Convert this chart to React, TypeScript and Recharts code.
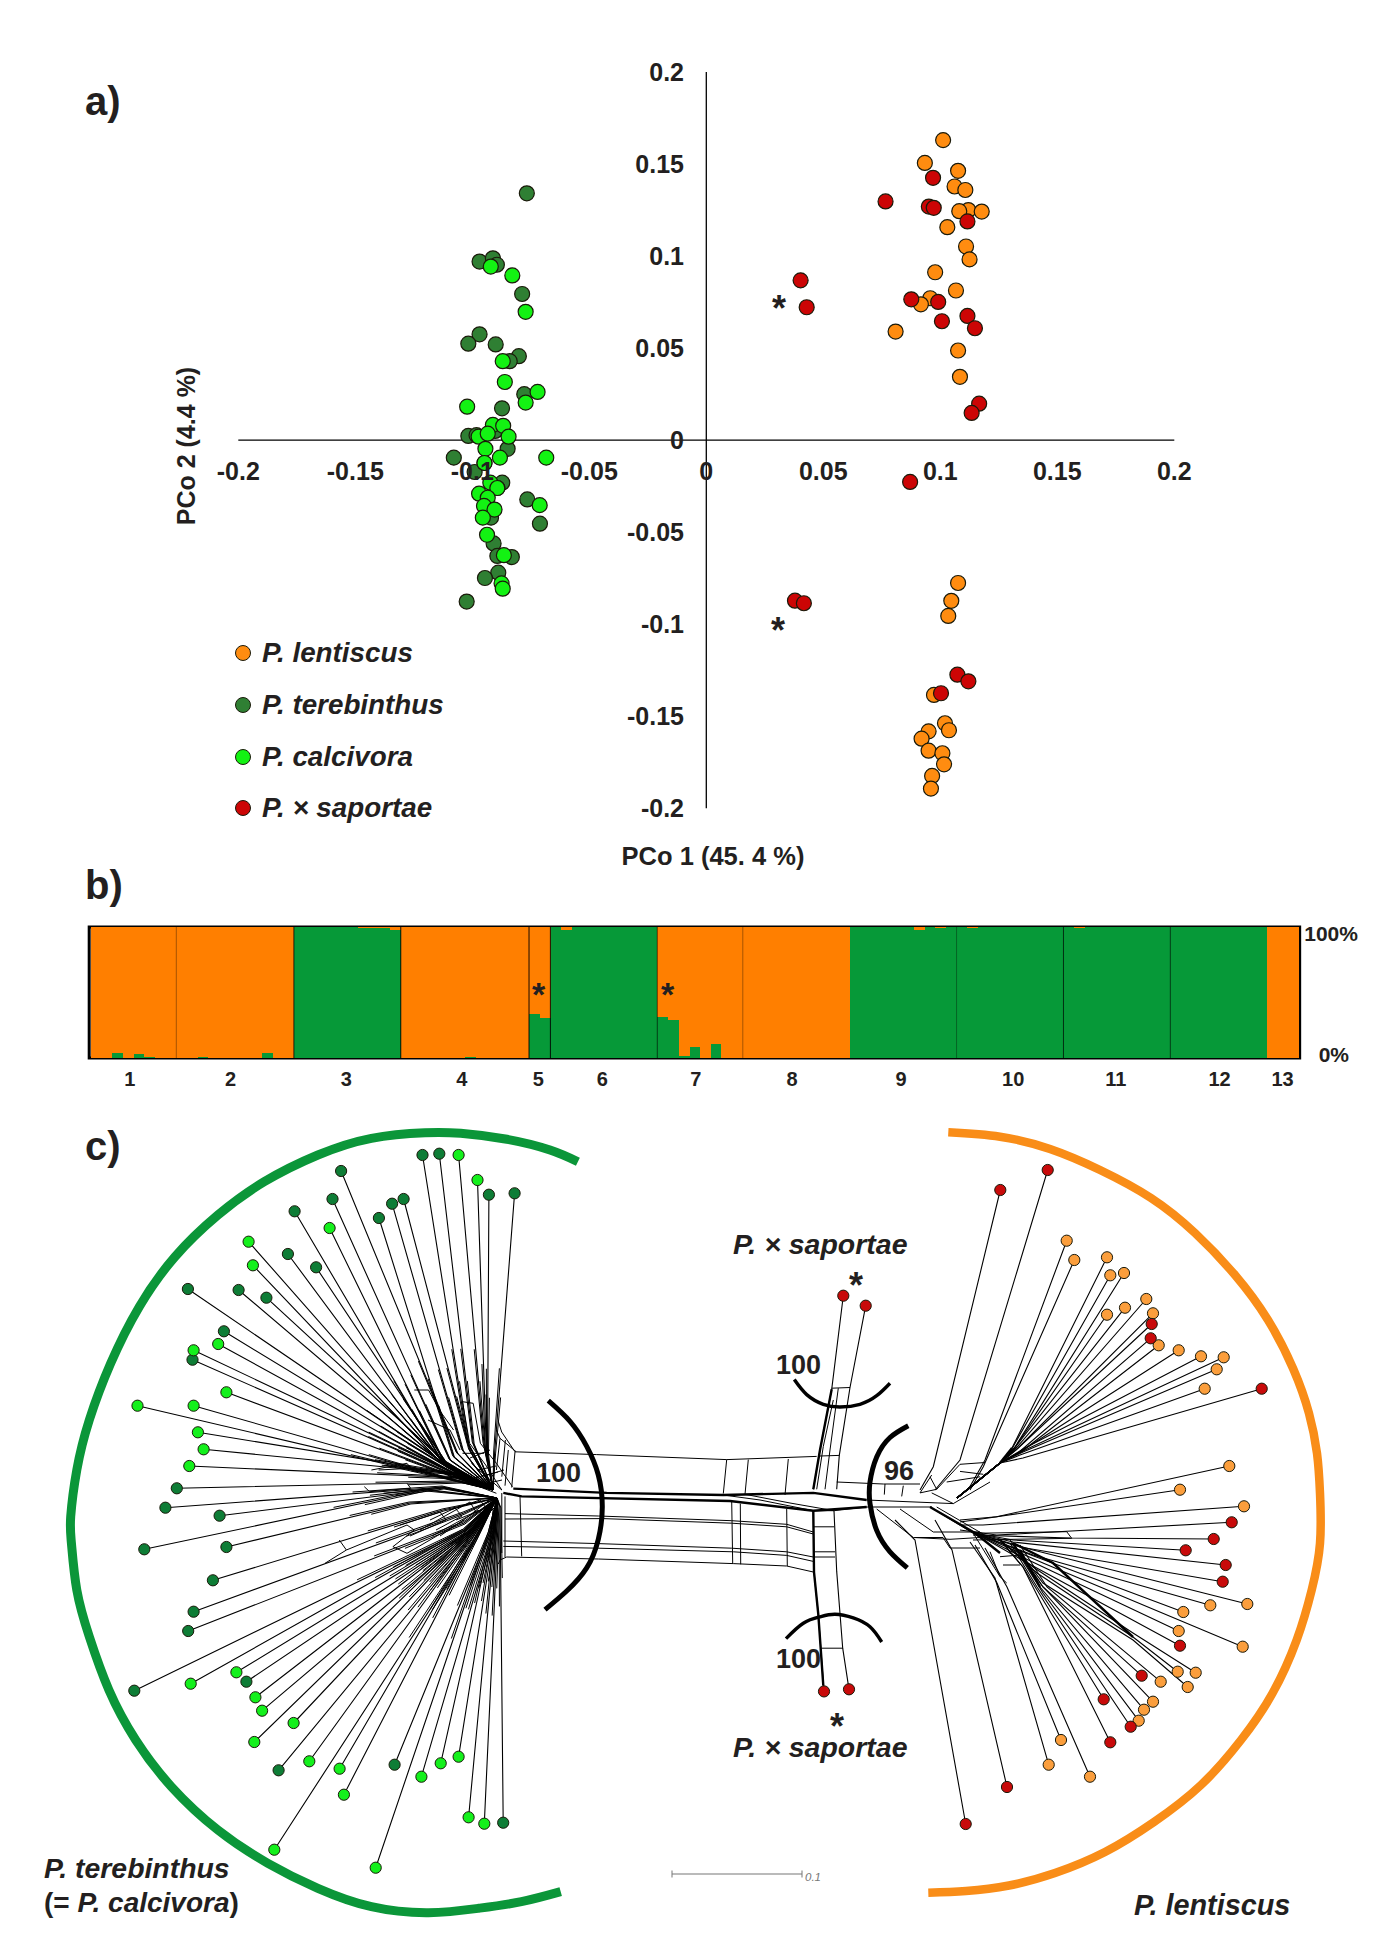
import React from "react";
import {
  Bar,
  BarChart,
  ComposedChart,
  Line,
  ReferenceArea,
  ReferenceLine,
  Scatter,
  ScatterChart,
  XAxis,
  YAxis,
} from "recharts";

// ---------- panel a: PCoA ----------
const pcoTicksX = [-0.2, -0.15, -0.1, -0.05, 0, 0.05, 0.1, 0.15, 0.2];
const pcoTicksY = [-0.2, -0.15, -0.1, -0.05, 0, 0.05, 0.1, 0.15, 0.2];

const pcoLentiscus = [
  [0.1012, 0.163], [0.0934, 0.1506], [0.1076, 0.1463], [0.1061, 0.1378], [0.1107, 0.1359],
  [0.112, 0.125], [0.1081, 0.1244], [0.1177, 0.1242], [0.103, 0.1157], [0.111, 0.1052],
  [0.1125, 0.0982], [0.0978, 0.0912], [0.1067, 0.0813], [0.0957, 0.0771], [0.0917, 0.0738],
  [0.0809, 0.059], [0.1076, 0.0487], [0.1084, 0.0344], [0.1076, -0.0776], [0.1047, -0.0873],
  [0.1034, -0.0955], [0.0973, -0.1384], [0.102, -0.1538], [0.1037, -0.1576], [0.095, -0.1582],
  [0.092, -0.1622], [0.095, -0.1687], [0.1009, -0.1701], [0.1016, -0.1761], [0.0965, -0.1824],
  [0.096, -0.1893],
];
const pcoTerebinthus = [
  [-0.0767, 0.1341], [-0.0969, 0.097], [-0.0912, 0.0988], [-0.0895, 0.0953], [-0.0787, 0.0794],
  [-0.0969, 0.0575], [-0.1017, 0.0524], [-0.09, 0.052], [-0.0801, 0.0456], [-0.084, 0.0429],
  [-0.0778, 0.025], [-0.0873, 0.0173], [-0.1017, 0.0023], [-0.0982, 0.0027], [-0.0902, 0.005],
  [-0.0849, -0.0047], [-0.1079, -0.0095], [-0.099, -0.0173], [-0.0948, -0.0124], [-0.0872, -0.0231],
  [-0.0893, -0.026], [-0.0765, -0.0322], [-0.0711, -0.0454], [-0.0911, -0.0377], [-0.092, -0.0421],
  [-0.0909, -0.0561], [-0.0893, -0.0629], [-0.0831, -0.0635], [-0.0889, -0.072], [-0.0946, -0.0749],
  [-0.1024, -0.0877],
];
const pcoCalcivora = [
  [-0.0921, 0.0943], [-0.0829, 0.0895], [-0.0772, 0.0697], [-0.087, 0.0429], [-0.0861, 0.0316],
  [-0.0721, 0.0262], [-0.0772, 0.0204], [-0.1022, 0.0182], [-0.0912, 0.0083], [-0.0868, 0.0078],
  [-0.0973, 0.0019], [-0.0934, 0.0035], [-0.0845, 0.0019], [-0.0944, -0.0047], [-0.0882, -0.0095],
  [-0.0684, -0.0095], [-0.0948, -0.0124], [-0.0923, -0.0231], [-0.0893, -0.026], [-0.0971, -0.0291],
  [-0.0934, -0.0313], [-0.095, -0.0357], [-0.0712, -0.0353], [-0.0905, -0.0377], [-0.0955, -0.0421],
  [-0.0937, -0.0514], [-0.0865, -0.0625], [-0.0875, -0.0778], [-0.087, -0.0807],
];
const pcoSaportae = [
  [0.0969, 0.1425], [0.0766, 0.1297], [0.0951, 0.1269], [0.0972, 0.1262], [0.1116, 0.1188],
  [0.0403, 0.0868], [0.0429, 0.0722], [0.0876, 0.0765], [0.0991, 0.0751], [0.1007, 0.0646],
  [0.1116, 0.0675], [0.1148, 0.0608], [0.1166, 0.0198], [0.1134, 0.0148], [0.0871, -0.0227],
  [0.0379, -0.0872], [0.0417, -0.0886], [0.1073, -0.1274], [0.112, -0.131], [0.1003, -0.1375],
];

// ---------- panel b: STRUCTURE ----------
const groupLabels = ["1", "2", "3", "4", "5", "6", "7", "8", "9", "10", "11", "12", "13"];
const groupLabelPositions = [3.65, 13.07, 23.9, 34.7, 41.86, 47.86, 56.6, 65.6, 75.8, 86.3, 95.9, 105.6, 111.5];
const separators = [
  [8, 0.35], [19, 0.8], [29, 0.9], [41, 0.9], [43, 0.9], [53, 0.6], [61, 0.35],
  [81, 0.35], [91, 0.7], [101, 0.6],
];
const greenShare = [
  0, 0, 3.6, 0, 3, 1, 0, 0,
  0, 0, 1, 0, 0, 0, 0, 0, 4, 0, 0,
  100, 100, 100, 100, 100, 100, 99.5, 99.5, 99.5, 97.5,
  0, 0, 0, 0, 0, 0, 1, 0, 0, 0, 0, 0,
  33.6, 30.5,
  100, 97.5, 100, 100, 100, 100, 100, 100, 100, 100,
  31, 28.7, 1.8, 8.7, 0, 11, 0, 0,
  0, 0, 0, 0, 0, 0, 0, 0, 0, 0,
  100, 100, 100, 100, 100, 100, 97.5, 100, 99.3, 100,
  100, 99.3, 100, 100, 100, 100, 100, 100, 100, 100,
  100, 99.2, 100, 100, 100, 100, 100, 100, 100, 100,
  100, 100, 100, 100, 100, 100, 100, 100, 100,
  0, 0, 0,
];

// ---------- panel c: neighbour-net (units: picture scale) ----------
const terebinthusLeaves = [
  [422.5, 1155, 467.9, 1443], [439.3, 1153.7, 473.2, 1443], [488.9, 1194.7, 487.5, 1453], [514.6, 1193.3, 494.6, 1453],
  [392.1, 1203.7, 462.5, 1450], [403.6, 1199, 469.6, 1450], [378.9, 1218, 453.6, 1456.7], [341.1, 1171, 457.1, 1453],
  [332.5, 1199, 450, 1460], [294.6, 1211.3, 442.9, 1463], [287.9, 1254, 442.9, 1463], [316.1, 1267.3, 446.4, 1463],
  [238.6, 1290, 446.4, 1466.7], [266.4, 1297.7, 450, 1466.7], [187.9, 1289, 453.6, 1470], [223.9, 1331.3, 457.1, 1473],
  [192.5, 1359.7, 453.6, 1475], [176.8, 1488.3, 471.4, 1481.7], [165.4, 1507.7, 443, 1487], [219.6, 1515.7, 443, 1488],
  [144.3, 1549.3, 425, 1490], [226.4, 1547, 410, 1503], [212.9, 1580.3, 443, 1510], [193.6, 1611.7, 464, 1513],
  [188.2, 1631, 464, 1523], [134.3, 1690.7, 464.3, 1530], [246.4, 1681.7, 467.9, 1533], [278.6, 1770.3, 471.4, 1537],
  [394.6, 1764.7, 489.3, 1533], [503.2, 1822.7, 500, 1507],
];
const calcivoraLeaves = [
  [458.6, 1155, 483.9, 1443], [477.5, 1180, 486.4, 1453], [329.6, 1228, 442.9, 1460], [248.6, 1241.7, 441, 1460],
  [252.9, 1265.3, 441, 1463], [218.2, 1344, 457.1, 1475], [193.6, 1350.3, 453.6, 1473], [226.4, 1392.3, 453.6, 1476.7],
  [137.5, 1405.7, 453.6, 1480], [193.6, 1405.7, 453.6, 1480], [197.9, 1432.3, 460.7, 1475], [203.6, 1449.3, 467.9, 1475],
  [189.3, 1466, 467.9, 1478.3], [190.7, 1683.7, 464.3, 1530], [236.4, 1672.3, 464.3, 1533], [255.4, 1697.3, 467.9, 1533],
  [262.1, 1710.7, 469.6, 1535], [293.6, 1723, 466, 1540], [254.3, 1742, 469.6, 1533], [309.3, 1761.3, 471.4, 1537],
  [339.6, 1768.7, 475, 1537], [343.9, 1794.7, 476.8, 1537], [274.3, 1849.7, 475, 1540], [375.7, 1867.7, 489.3, 1533],
  [421.4, 1776.7, 492.9, 1533], [440.7, 1763.3, 492.9, 1530], [458.6, 1756.7, 494.6, 1530], [468.6, 1817.3, 496.4, 1520],
  [484.3, 1823.7, 498.2, 1520],
];
const lentiscusLeaves = [
  [1066.7, 1240.7, 985, 1460, 968, 1490], [1074.3, 1260, 983.3, 1466.7, 970, 1490],
  [1107, 1257.3, 1011, 1450, 1000, 1463, 957, 1498], [1110.3, 1275.3, 1013, 1447, 1000, 1463, 957, 1498],
  [1124, 1273, 1015, 1447, 1000, 1463, 957, 1498], [1146.3, 1299, 1017, 1447, 1000, 1463, 957, 1498],
  [1125, 1307.7, 1013, 1450, 1000, 1463, 957, 1498], [1107, 1314.7, 1011, 1453, 1000, 1463, 957, 1498],
  [1153, 1313.3, 1018, 1448, 1000, 1463, 957, 1498], [1158.7, 1345.3, 1021, 1452, 1000, 1463, 957, 1498],
  [1178.7, 1350.3, 1023, 1450, 1000, 1463, 957, 1498], [1201, 1356.3, 1025, 1448, 1000, 1463, 957, 1498],
  [1223.7, 1357.3, 1025, 1450, 1000, 1463, 957, 1498], [1216.7, 1369.3, 1023, 1452, 1000, 1463, 957, 1498],
  [1204.7, 1388.7, 1020, 1455, 1000, 1463, 957, 1498], [1229.3, 1466, 996.7, 1516.7, 960, 1520], [1180, 1489.7, 986.7, 1518.3, 960, 1522],
  [1244, 1506.3, 983, 1525, 960, 1525], [1210.3, 1605.3, 1033, 1555, 975, 1533], [1247.3, 1604, 1033, 1550, 975, 1533],
  [1183.3, 1612, 1023, 1552, 975, 1533], [1178.7, 1631, 1022, 1557, 975, 1533], [1242.7, 1646.7, 1043, 1563, 975, 1533],
  [1177.7, 1671.7, 1133, 1637, 1037, 1573, 1000, 1540], [1195.7, 1672.7, 1133, 1633, 1033, 1567, 1000, 1540],
  [1160.7, 1681.7, 1047, 1587, 1020, 1545], [1187.7, 1687, 1133, 1640, 1043, 1583, 1010, 1540],
  [1153, 1701.7, 1043, 1587, 1013, 1543], [1144, 1709.7, 1040, 1587, 1013, 1543], [1138.7, 1720.7, 1043, 1593, 1013, 1545],
  [1061, 1740, 997, 1583, 975, 1545], [1048.7, 1764.7, 995, 1578, 970, 1542], [1090, 1776.7, 1007, 1587, 985, 1548],
];
const saportaeLeaves = [
  [1000.3, 1190, 933.3, 1466.7, 920, 1490], [1047.7, 1170, 960, 1460, 935, 1490],
  [1151.7, 1324, 1016, 1450, 1000, 1463, 957, 1498], [1150.7, 1338.3, 1018, 1453, 1000, 1463, 957, 1498],
  [1261.7, 1388.7, 1023, 1458, 1000, 1463, 957, 1498], [1231.7, 1522.3, 996.7, 1535, 960, 1530],
  [1213.7, 1539, 1070, 1538, 973, 1535], [1185.7, 1550.3, 1013, 1540, 975, 1533], [1225.7, 1565, 1013, 1542, 975, 1533],
  [1222.7, 1581.7, 1020, 1547, 975, 1533], [1180, 1645.7, 1022, 1560, 975, 1533], [1141.7, 1675.7, 1043, 1587, 1013, 1543],
  [1103.7, 1699.3, 1023, 1567, 1000, 1540], [1130.7, 1726.7, 1037, 1587, 1010, 1543], [1110.3, 1742.3, 1023, 1567, 1000, 1540],
  [1007, 1787, 952, 1550, 935, 1520], [965.7, 1824, 915, 1540, 895, 1520],
  [843.3, 1295.7, 831.7, 1389.3, 820, 1450, 813.3, 1489.3], [865.7, 1305.7, 850, 1387.5, 839.3, 1455.4, 836.7, 1489.3],
  [824, 1691.4, 818.3, 1614.3, 814, 1572, 813.3, 1510.7], [849, 1689.3, 842.7, 1648.2, 836.7, 1571.4, 834, 1510.7],
];
const webPaths = [
  // central band
  [515, 1451.8, 596.7, 1454.6, 726.7, 1459.6, 816.7, 1456.4],
  [498.3, 1421.4, 501.7, 1432, 515, 1451.8],
  [505, 1513.6, 598.3, 1516, 731.7, 1520.7, 786.7, 1524.3, 813.3, 1532],
  [505, 1519, 603.3, 1518.6, 731.7, 1523.2, 786.7, 1526.8, 813.3, 1534],
  [503.3, 1541, 598.3, 1543.6, 731.7, 1548.2, 786.7, 1551.8, 813.3, 1557],
  [503.3, 1546.4, 598.3, 1548.2, 733.3, 1551.8, 786.7, 1555.4, 813.3, 1561.4],
  [506.7, 1557, 598.3, 1559, 733.3, 1563.6, 786.7, 1566, 813.3, 1572],
  [498.3, 1564, 500, 1560, 506.7, 1557],
  [726.7, 1459.6, 723.3, 1493.6], [748.3, 1459.6, 745, 1494.3], [788.3, 1459, 785, 1495],
  [731.7, 1501, 732.7, 1563.6], [740.3, 1503.6, 740.7, 1564.3], [786.7, 1509, 787.3, 1566],
  [505, 1496.4, 505, 1557], [520, 1496.4, 521.7, 1556.4], [515, 1451.8, 511.7, 1487.5], [508.3, 1450, 505, 1485.7],
  [723.3, 1495, 760, 1500, 813.3, 1510.7], [745, 1494.3, 790, 1503, 834, 1510.7], [813.3, 1510.7, 834, 1510.7, 866.7, 1507],
  // hybrid branches
  [825, 1489.3, 830, 1450, 838.3, 1388.2], [816.7, 1489.3, 823.3, 1446.4, 833.3, 1400],
  [831.7, 1388.2, 850, 1387.5], [820, 1456, 839.3, 1455.4],
  [813.3, 1526.8, 834, 1526.8], [813.3, 1551.8, 835, 1551.8], [814, 1557, 835, 1557], [821.7, 1648.2, 842.7, 1648.2],
  // left hub
  [462.5, 1401.7, 473.2, 1403.3, 480.4, 1443.3, 496.4, 1463.3, 512.5, 1486.7],
  [462.5, 1401.7, 469.6, 1443.3, 485.7, 1465, 501.8, 1490],
  [496.4, 1430, 500, 1438.3, 516.1, 1451.7], [500, 1438.3, 496.4, 1470], [505.4, 1440, 501.8, 1476.7],
  [471.4, 1463.3, 501.8, 1490], [453.6, 1476.7, 496.4, 1493.3], [462.5, 1453.3, 484, 1453.3],
  [478, 1470, 496, 1466], [474, 1478, 498, 1472], [476, 1486, 502, 1480], [470, 1458, 490, 1450], [484, 1476, 504, 1470],
  [371.4, 1470, 407, 1463.3, 410.7, 1468.3, 378.6, 1470], [364.3, 1486.7, 369.6, 1491.7, 410.7, 1488.3, 407, 1483.3],
  [414.3, 1390, 428.6, 1390, 439.3, 1410, 453.6, 1430], [428, 1420, 450, 1430, 460, 1450],
  [339.3, 1540, 346.4, 1550, 325, 1563.3], [346.4, 1550, 407, 1525, 414.3, 1530, 392.9, 1546.7, 407, 1553.3, 464.3, 1520],
  [400, 1525, 440, 1512, 446, 1520, 410, 1536], [430, 1520, 455, 1508, 462, 1516, 436, 1530],
  [450, 1510, 480, 1500, 486, 1508, 456, 1520], [470, 1515, 492, 1498, 496, 1506, 478, 1524],
  [420, 1530, 470, 1502, 476, 1512, 432, 1536], [440, 1536, 478, 1510, 486, 1520, 450, 1544],
  [501.8, 1493, 501.8, 1553], [493, 1510, 489, 1560], [496, 1505, 494, 1570],
  // right hub
  [836.7, 1482, 883.3, 1484, 920, 1484], [885, 1484, 884.3, 1494.6], [903.3, 1485.7, 901.7, 1496.4],
  [920, 1492.9, 931.7, 1475], [930, 1476.8, 936.7, 1489.3, 920, 1492.9], [936.7, 1489.3, 960, 1464.3, 985, 1462.5],
  [960, 1471.4, 983.3, 1474.3], [946.7, 1482, 980, 1476.8], [953.3, 1503.6, 990, 1482], [931.7, 1492.9, 953.3, 1503.6],
  [866.7, 1500, 953.3, 1503.6], [866.7, 1507, 920, 1507, 932, 1507],
  [876.7, 1509, 913.3, 1537.5, 950, 1539.3, 980, 1537.5], [900, 1509, 933.3, 1532, 980, 1532],
  [930, 1507, 980, 1537.5], [936.7, 1507, 983, 1534], [915, 1537.5, 943, 1537.5, 950, 1548, 980, 1548],
  [973.3, 1533.3, 1000, 1576.7], [990, 1551.7, 1000, 1576.7, 1006.7, 1583], [1000, 1556.7, 1020, 1555], [1003, 1565, 1020, 1565],
  [973.3, 1533.3, 1066.7, 1531.7, 1071.7, 1538.3, 973, 1540],
];
const thickWebPaths = [
  [513.3, 1488.6, 606.7, 1492.9, 723.3, 1495, 813.3, 1492.9, 866.7, 1500],
  [503.3, 1492.9, 521.7, 1496.4, 730, 1501, 813.3, 1510.7, 866.7, 1507],
  [813.3, 1510.7, 814, 1572, 818.3, 1614.3, 823.3, 1685.7],
  [813.3, 1489.3, 820, 1450, 831.7, 1389.3],
  [930, 1507, 975, 1533, 1000, 1553],
  [1013, 1543, 1053, 1563, 1133, 1637],
  [1040, 1587, 1020, 1550],
  [1012, 1448, 1000, 1463],
];

// arcs read along their length
const terebinthusArc = [
  [577.9, 1161.7], [550, 1150], [507, 1139.3], [460.7, 1133.3], [425, 1132.7], [371.4, 1138.3], [317.9, 1155],
  [264.3, 1181.7], [217.9, 1215], [175, 1256.7], [139.3, 1306.7], [110.7, 1363.3], [89.3, 1420], [76.8, 1470],
  [70.7, 1516.7], [71.4, 1543], [76.8, 1590], [89.3, 1636.7], [108.9, 1690], [135.7, 1740], [171.4, 1786.7],
  [217.9, 1830], [267.9, 1863.3], [317.9, 1888.3], [371.4, 1906.7], [428.6, 1912.7], [478.6, 1908.3],
  [521.4, 1901.7], [560.7, 1891.7],
];
const lentiscusArc = [
  [948.3, 1132.3], [1000, 1136.7], [1050, 1149], [1100, 1170], [1151, 1198], [1195, 1233], [1235, 1275],
  [1268, 1320], [1293.3, 1369], [1309, 1413.3], [1317, 1453.3], [1320, 1493.3], [1320, 1543.3], [1311.7, 1590],
  [1296.7, 1640], [1272.5, 1693.3], [1241, 1740], [1201, 1785], [1154, 1822], [1105, 1852], [1055, 1873],
  [1009, 1885.5], [966, 1891], [928.3, 1892.7],
];
const supportLeftArc = [[548.3, 1400.7], [570, 1421.4], [586.7, 1446.4], [598.3, 1475], [602.3, 1507], [598.3, 1539.3], [586.7, 1567.9], [566.7, 1591], [545, 1609.6]];
const supportRightArc = [[908.3, 1425.7], [890, 1437.5], [876.7, 1457], [870, 1482], [870, 1503.6], [876.7, 1530.4], [890, 1551.8], [907.3, 1567.9]];
const supportTopArc = [[794.3, 1379.6], [806.7, 1394.6], [823.3, 1404.3], [840, 1407], [860, 1404.3], [876.7, 1395.7], [890, 1383.2]];
const supportBottomArc = [[786, 1638.6], [803.3, 1623.2], [820, 1616.8], [835, 1614.3], [853.3, 1617.9], [870, 1626.8], [881.7, 1642]];
const scaleBar = [[672, 1874], [802, 1874]];
const scaleBarCaps = [[[672, 1870.5], [672, 1877.5]], [[802, 1870.5], [802, 1877.5]]];

// ---------- helpers and styles ----------
const INK = "#231f20";
const FONT = "'Liberation Sans', Arial, sans-serif";
const pts = (rows: number[][]) => rows.map(([x, y]) => ({ x, y }));
const flat = (p: number[]) => {
  const out: { x: number; y: number }[] = [];
  for (let i = 0; i + 1 < p.length; i += 2) out.push({ x: p[i], y: p[i + 1] });
  return out;
};
const hubOf = (r: number[]) => (r[1] < 1500 ? { x: 493, y: 1490 } : { x: 497, y: 1498 });
const leftBranch = (r: number[]) => [...flat(r), hubOf(r)];
// the reticulate part of each branch reads as a doubled strand near the hub
const leftStrand = (r: number[], t: number, off: number) => [
  { x: r[0] + (r[2] - r[0]) * t + off, y: r[1] + (r[3] - r[1]) * t + off },
  { x: r[2] + off * 0.6, y: r[3] + off * 0.6 },
  hubOf(r),
];

const dotShape = (r: number, sw: number) => (p: any) => (
  <circle cx={p.cx} cy={p.cy} r={r} fill={p.fill} stroke="#1a1a0a" strokeWidth={sw} />
);

const structureRows = greenShare.map((g, i) => ({ id: i, green: g, orange: 100 - g }));

const Legend4 = [
  { y: 653, c: "#ff8c10", t: "P. lentiscus" },
  { y: 705, c: "#2f7f33", t: "P. terebinthus" },
  { y: 757, c: "#13f213", t: "P. calcivora" },
  { y: 808, c: "#cc0505", t: "P. × saportae" },
];

const T = (p: any) => <text fontFamily={FONT} fontWeight="bold" fill={INK} {...p} />;

function Overlay() {
  return (
    <svg width={1385} height={1959} style={{ position: "absolute", left: 0, top: 0, pointerEvents: "none" }}>
      <T x={85} y={115} fontSize={40}>a)</T>
      <T x={85} y={899} fontSize={40}>b)</T>
      <T x={85} y={1160} fontSize={40}>c)</T>
      <T x={195} y={446} fontSize={25} textAnchor="middle" transform="rotate(-90 195 446)">PCo 2 (4.4 %)</T>
      <T x={713} y={865} fontSize={25.5} textAnchor="middle">PCo 1 (45. 4 %)</T>
      {Legend4.map((l) => (
        <g key={l.t}>
          <circle cx={243} cy={l.y} r={7.5} fill={l.c} stroke="#1a1a0a" strokeWidth={1} />
          <T x={262} y={l.y + 9} fontSize={27.8} fontStyle="italic">{l.t}</T>
        </g>
      ))}
      <T x={779} y={321} fontSize={36} textAnchor="middle">*</T>
      <T x={778} y={643} fontSize={36} textAnchor="middle">*</T>
      <T x={538.5} y={1006} fontSize={34} textAnchor="middle">*</T>
      <T x={667.5} y={1006} fontSize={34} textAnchor="middle">*</T>
      <T x={856} y={1298} fontSize={36} textAnchor="middle">*</T>
      <T x={837} y={1739} fontSize={36} textAnchor="middle">*</T>
      <T x={536} y={1482} fontSize={27}>100</T>
      <T x={776} y={1374} fontSize={27}>100</T>
      <T x={776} y={1668} fontSize={27}>100</T>
      <T x={884} y={1480} fontSize={27}>96</T>
      <T x={733} y={1254} fontSize={28.5} fontStyle="italic">P. × saportae</T>
      <T x={733} y={1757} fontSize={28.5} fontStyle="italic">P. × saportae</T>
      <T x={44} y={1878} fontSize={28.4} fontStyle="italic">P. terebinthus</T>
      <T x={44} y={1912} fontSize={28}>
        (= <tspan fontStyle="italic">P. calcivora</tspan>)
      </T>
      <T x={1134} y={1915} fontSize={28.8} fontStyle="italic">P. lentiscus</T>
      <text x={805} y={1881} fontFamily={FONT} fontStyle="italic" fontSize={11.5} fill="#777">0.1</text>
    </svg>
  );
}

const xTickA = (p: any) => (
  <text x={p.x} y={471} textAnchor="middle" dominantBaseline="central" fontFamily={FONT} fontWeight="bold" fontSize={25} fill={INK}>
    {p.payload.value}
  </text>
);
const yTickA = (p: any) => (
  <text x={684} y={p.y} textAnchor="end" dominantBaseline="central" fontFamily={FONT} fontWeight="bold" fontSize={25} fill={INK}>
    {p.payload.value}
  </text>
);
const xTickB = (p: any) => (
  <text x={p.x} y={179} textAnchor="middle" dominantBaseline="central" fontFamily={FONT} fontWeight="bold" fontSize={20} fill={INK}>
    {groupLabels[groupLabelPositions.indexOf(p.payload.value)]}
  </text>
);
const yTickB = (p: any) => (
  <text
    x={p.payload.value === 100 ? 1358 : 1349}
    y={p.payload.value === 100 ? p.y + 6 : p.y - 4}
    textAnchor="end"
    dominantBaseline="central"
    fontFamily={FONT}
    fontWeight="bold"
    fontSize={21}
    fill={INK}
  >
    {p.payload.value}%
  </text>
);

const lineProps = { dataKey: "y", dot: false, activeDot: false, isAnimationActive: false, legendType: "none" as const, connectNulls: true };

function PanelA() {
  return (
    <ScatterChart width={1385} height={950} margin={{ left: 237.3, right: 210.7, top: 72, bottom: 140.7 }} style={{ position: "absolute", left: 0, top: 0 }}>
      <XAxis type="number" dataKey="x" domain={[-0.2, 0.2]} ticks={pcoTicksX} height={1} axisLine={false} tickLine={false} tick={xTickA} interval={0} allowDataOverflow />
      <YAxis type="number" dataKey="y" domain={[-0.2, 0.2]} ticks={pcoTicksY} width={1} axisLine={false} tickLine={false} tick={yTickA} interval={0} allowDataOverflow />
      <ReferenceLine x={0} stroke="#000" strokeWidth={1.3} />
      <ReferenceLine y={0} stroke="#000" strokeWidth={1.3} />
      <Scatter name="P. lentiscus" data={pts(pcoLentiscus)} fill="#ff8c10" shape={dotShape(7.5, 1.2)} isAnimationActive={false} />
      <Scatter name="P. terebinthus" data={pts(pcoTerebinthus)} fill="#2f7f33" shape={dotShape(7.5, 1.2)} isAnimationActive={false} />
      <Scatter name="P. calcivora" data={pts(pcoCalcivora)} fill="#13f213" shape={dotShape(7.5, 1.2)} isAnimationActive={false} />
      <Scatter name="P. × saportae" data={pts(pcoSaportae)} fill="#cc0505" shape={dotShape(7.5, 1.2)} isAnimationActive={false} />
    </ScatterChart>
  );
}

function PanelB() {
  return (
    <BarChart
      width={1385}
      height={220}
      data={structureRows}
      barCategoryGap={0}
      barGap={0}
      margin={{ left: 90.8, right: 85.4, top: 27, bottom: 61 }}
      style={{ position: "absolute", left: 0, top: 900 }}
    >
      <XAxis dataKey="id" hide />
      <XAxis xAxisId="pos" dataKey="id" type="number" domain={[0, 113]} allowDataOverflow ticks={groupLabelPositions} height={1} axisLine={false} tickLine={false} tick={xTickB} interval={0} />
      <YAxis domain={[0, 100]} ticks={[0, 100]} orientation="right" width={1} axisLine={false} tickLine={false} tick={yTickB} />
      <Bar dataKey="green" stackId="s" fill="#069938" isAnimationActive={false} shapeRendering="crispEdges" />
      <Bar dataKey="orange" stackId="s" fill="#ff7f00" isAnimationActive={false} shapeRendering="crispEdges" />
      {separators.map(([x, o]) => (
        <ReferenceLine key={x} xAxisId="pos" x={x} stroke="#000" strokeOpacity={o} strokeWidth={1} />
      ))}
      <ReferenceArea xAxisId="pos" x1={-0.15} x2={113.1} y1={0} y2={100} fill="none" stroke="#000" strokeWidth={3} ifOverflow="visible" />
    </BarChart>
  );
}

function PanelC() {
  const leftLeaves = [...terebinthusLeaves, ...calcivoraLeaves];
  return (
    <ComposedChart width={1385} height={859} margin={{ left: 0, right: 0, top: 0, bottom: 0 }} style={{ position: "absolute", left: 0, top: 1100 }}>
      <XAxis type="number" dataKey="x" domain={[0, 1385]} hide allowDataOverflow />
      <YAxis type="number" dataKey="y" domain={[1100, 1959]} reversed hide allowDataOverflow />
      <Line {...lineProps} data={pts(terebinthusArc)} type="natural" stroke="#0b9639" strokeWidth={9} />
      <Line {...lineProps} data={pts(lentiscusArc)} type="natural" stroke="#f98d18" strokeWidth={8.5} />
      {leftLeaves.map((r, i) => (
        <Line key={"g" + i} {...lineProps} data={leftBranch(r)} stroke="#000" strokeWidth={1.1} />
      ))}
      {leftLeaves.map((r, i) => (
        <Line key={"s" + i} {...lineProps} data={leftStrand(r, 0.78, 1.6)} stroke="#000" strokeWidth={1} />
      ))}
      {leftLeaves.map((r, i) => (
        <Line key={"u" + i} {...lineProps} data={leftStrand(r, 0.68, -1.6)} stroke="#000" strokeWidth={1} />
      ))}
      {[...lentiscusLeaves, ...saportaeLeaves].map((r, i) => (
        <Line key={"o" + i} {...lineProps} data={flat(r)} stroke="#000" strokeWidth={1.1} />
      ))}
      {webPaths.map((r, i) => (
        <Line key={"w" + i} {...lineProps} data={flat(r)} stroke="#000" strokeWidth={1} />
      ))}
      {thickWebPaths.map((r, i) => (
        <Line key={"t" + i} {...lineProps} data={flat(r)} stroke="#000" strokeWidth={2.4} />
      ))}
      <Line {...lineProps} data={pts(supportLeftArc)} type="natural" stroke="#000" strokeWidth={5} />
      <Line {...lineProps} data={pts(supportRightArc)} type="natural" stroke="#000" strokeWidth={5} />
      <Line {...lineProps} data={pts(supportTopArc)} type="natural" stroke="#000" strokeWidth={3.4} />
      <Line {...lineProps} data={pts(supportBottomArc)} type="natural" stroke="#000" strokeWidth={3.4} />
      <Line {...lineProps} data={pts(scaleBar)} stroke="#777" strokeWidth={1.2} />
      {scaleBarCaps.map((c, i) => (
        <Line key={"c" + i} {...lineProps} data={pts(c)} stroke="#777" strokeWidth={1} />
      ))}
      <Scatter data={lentiscusLeaves.map((r) => ({ x: r[0], y: r[1] }))} fill="#fb9e3c" shape={dotShape(5.6, 1)} isAnimationActive={false} />
      <Scatter data={terebinthusLeaves.map((r) => ({ x: r[0], y: r[1] }))} fill="#0e7d36" shape={dotShape(5.6, 1)} isAnimationActive={false} />
      <Scatter data={calcivoraLeaves.map((r) => ({ x: r[0], y: r[1] }))} fill="#14f01c" shape={dotShape(5.6, 1)} isAnimationActive={false} />
      <Scatter data={saportaeLeaves.map((r) => ({ x: r[0], y: r[1] }))} fill="#c80a0a" shape={dotShape(5.6, 1)} isAnimationActive={false} />
    </ComposedChart>
  );
}

export default function App() {
  return (
    <div style={{ position: "absolute", left: 0, top: 0, width: 1385, height: 1959, background: "#fff", overflow: "hidden" }}>
      <PanelA />
      <PanelB />
      <PanelC />
      <Overlay />
    </div>
  );
}
